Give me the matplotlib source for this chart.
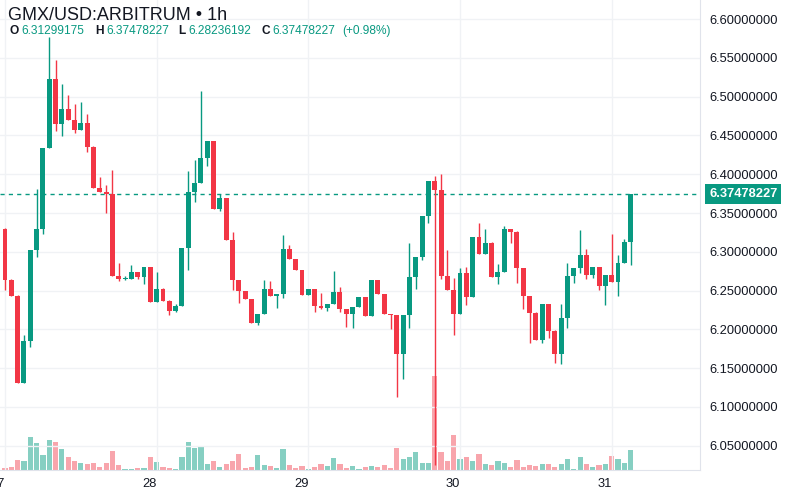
import matplotlib
matplotlib.use("Agg")
import matplotlib.pyplot as plt
import matplotlib.transforms as mtransforms

plt.rcParams['font.family'] = ['Liberation Sans', 'DejaVu Sans']

# hourly candles, 27th 00:00 .. 31st 03:00
opens = [6.3300, 6.2635, 6.2427, 6.1314, 6.1853, 6.3026, 6.3296, 6.4336, 6.5222, 6.4653,
         6.4845, 6.4695, 6.4570, 6.4657, 6.4353, 6.3822, 6.3767, 6.3750, 6.2684, 6.2650,
         6.2655, 6.2740, 6.2675, 6.2804, 6.2354, 6.2525, 6.2370, 6.2237, 6.2297, 6.3052,
         6.3777, 6.3885, 6.4211, 6.4425, 6.3546, 6.3690, 6.3147, 6.2632, 6.2490, 6.2387,
         6.2083, 6.2203, 6.2525, 6.2426, 6.2460, 6.3030, 6.2902, 6.2760, 6.2447, 6.2516,
         6.2305, 6.2271, 6.2327, 6.2477, 6.2262, 6.2198, 6.2284, 6.2413, 6.2177, 6.2636,
         6.2456, 6.2198, 6.2185, 6.1679, 6.2185, 6.2670, 6.2936, 6.3460, 6.3914, 6.3794,
         6.2687, 6.2507, 6.2198, 6.2722, 6.2421, 6.3193, 6.2970, 6.3116, 6.2670, 6.2743,
         6.3288, 6.3258, 6.2786, 6.2430, 6.2216, 6.1865, 6.2327, 6.1985, 6.1685, 6.2143,
         6.2687, 6.2794, 6.2956, 6.2700, 6.2807, 6.2558, 6.2700, 6.2614, 6.2862, 6.31299175]
highs = [6.3310, 6.2650, 6.2440, 6.1926, 6.3026, 6.3810, 6.4336, 6.5768, 6.5466, 6.5158,
         6.5020, 6.4910, 6.4930, 6.4770, 6.4360, 6.3968, 6.3860, 6.4053, 6.2855, 6.2690,
         6.2830, 6.2745, 6.2804, 6.2810, 6.2740, 6.2530, 6.2375, 6.2323, 6.3052, 6.4035,
         6.4185, 6.5077, 6.4425, 6.4430, 6.3747, 6.3695, 6.3250, 6.2640, 6.2495, 6.2390,
         6.2203, 6.2640, 6.2620, 6.2460, 6.3220, 6.3082, 6.2905, 6.2765, 6.2516, 6.2520,
         6.2464, 6.2327, 6.2752, 6.2550, 6.2265, 6.2284, 6.2413, 6.2415, 6.2636, 6.2640,
         6.2460, 6.2200, 6.2190, 6.2185, 6.3108, 6.2936, 6.3460, 6.3914, 6.3974, 6.4009,
         6.3022, 6.2657, 6.2786, 6.2799, 6.3193, 6.3374, 6.3288, 6.3120, 6.2842, 6.3331,
         6.3290, 6.3262, 6.2790, 6.2432, 6.2218, 6.2327, 6.2330, 6.1990, 6.2327, 6.2858,
         6.2794, 6.3286, 6.3042, 6.2807, 6.2810, 6.2700, 6.3226, 6.2956, 6.3170, 6.37478227]
lows = [6.2505, 6.2425, 6.1314, 6.1314, 6.1776, 6.2930, 6.3230, 6.4336, 6.4558, 6.4494,
        6.4695, 6.4537, 6.4570, 6.4289, 6.3822, 6.3767, 6.3497, 6.2684, 6.2630, 6.2635,
        6.2655, 6.2650, 6.2590, 6.2354, 6.2354, 6.2367, 6.2180, 6.2230, 6.2297, 6.2760,
        6.3640, 6.3885, 6.4100, 6.3546, 6.3530, 6.3147, 6.2512, 6.2340, 6.2387, 6.2083,
        6.2053, 6.2203, 6.2426, 6.2280, 6.2410, 6.2902, 6.2760, 6.2447, 6.2440, 6.2224,
        6.2265, 6.2240, 6.2327, 6.2228, 6.2035, 6.2014, 6.2284, 6.2177, 6.2177, 6.2456,
        6.2198, 6.2000, 6.1134, 6.1357, 6.2014, 6.2520, 6.2893, 6.3365, 6.0250, 6.2644,
        6.2507, 6.1928, 6.2198, 6.2314, 6.2421, 6.2970, 6.2970, 6.2670, 6.2584, 6.2743,
        6.3116, 6.2593, 6.2258, 6.1822, 6.1865, 6.1822, 6.1886, 6.1565, 6.1557, 6.2015,
        6.2593, 6.2721, 6.2644, 6.2657, 6.2507, 6.2314, 6.2614, 6.2430, 6.2862, 6.28236192]
closes = [6.2635, 6.2427, 6.1314, 6.1853, 6.3026, 6.3296, 6.4336, 6.5222, 6.4653, 6.4845,
          6.4695, 6.4570, 6.4657, 6.4353, 6.3822, 6.3767, 6.3750, 6.2684, 6.2650, 6.2655,
          6.2740, 6.2675, 6.2804, 6.2354, 6.2525, 6.2370, 6.2237, 6.2297, 6.3052, 6.3777,
          6.3885, 6.4211, 6.4425, 6.3546, 6.3690, 6.3147, 6.2632, 6.2490, 6.2387, 6.2083,
          6.2203, 6.2525, 6.2426, 6.2460, 6.3030, 6.2902, 6.2760, 6.2447, 6.2516, 6.2305,
          6.2271, 6.2327, 6.2477, 6.2262, 6.2198, 6.2284, 6.2413, 6.2177, 6.2636, 6.2456,
          6.2198, 6.2185, 6.1679, 6.2185, 6.2670, 6.2936, 6.3460, 6.3914, 6.3794, 6.2687,
          6.2507, 6.2198, 6.2722, 6.2421, 6.3193, 6.2970, 6.3116, 6.2670, 6.2743, 6.3288,
          6.3258, 6.2786, 6.2430, 6.2216, 6.1865, 6.2327, 6.1985, 6.1685, 6.2143, 6.2687,
          6.2794, 6.2956, 6.2700, 6.2807, 6.2558, 6.2700, 6.2614, 6.2862, 6.3128, 6.37478227]
volumes = [5, 10, 30, 28, 98, 82, 45, 90, 84, 63,
           38, 27, 22, 17, 20, 10, 20, 57, 15, 4,
           4, 5, 5, 40, 25, 9, 5, 2, 38, 85,
           66, 70, 17, 26, 9, 19, 28, 48, 5, 8,
           45, 15, 12, 5, 62, 15, 5, 12, 2, 10,
           18, 12, 35, 18, 5, 12, 2, 8, 12, 8,
           15, 6, 65, 32, 40, 53, 20, 20, 282, 55,
           28, 106, 34, 39, 28, 47, 17, 15, 26, 22,
           9, 30, 10, 14, 11, 17, 17, 8, 17, 34,
           4, 38, 18, 9, 14, 17, 42, 34, 20, 60]

day_labels = ['27', '28', '29', '30', '31']
day_starts = [0, 24, 48, 72, 96]
price_ticks = [6.05, 6.10, 6.15, 6.20, 6.25, 6.30, 6.35, 6.40, 6.45, 6.50, 6.55, 6.60]

UP = '#089981'
DOWN = '#f23645'
UP_VOL = '#86cfc2'
DOWN_VOL = '#f8a5ac'
TXT = '#131722'
GRID = '#f0f2f5'

fig = plt.figure(figsize=(8, 5), dpi=100)
ax = fig.add_axes([0, 0.06, 0.875, 0.94])
axv = ax.twinx()
ax.set_zorder(axv.get_zorder() + 1)
ax.patch.set_visible(False)

x = list(range(len(closes)))
up = [c >= o for o, c in zip(opens, closes)]

# volume underneath
axv.bar(x, volumes, width=0.82, color=[UP_VOL if u else DOWN_VOL for u in up])
axv.set_ylim(0, 1410)
axv.axis('off')

# candles
cols = [UP if u else DOWN for u in up]
ax.vlines(x, lows, highs, colors=cols, linewidth=1.0, zorder=3)
bottoms = [min(o, c) for o, c in zip(opens, closes)]
heights = [max(abs(c - o), 0.0008) for o, c in zip(opens, closes)]
ax.bar(x, heights, bottom=bottoms, width=0.78, color=cols, zorder=4)

ax.set_xlim(-0.79, 109.97)
ax.set_ylim(6.0188, 6.6245)

# grid
for d in day_starts:
    ax.axvline(d, color=GRID, linewidth=1, zorder=0)
for p in price_ticks:
    ax.axhline(p, color=GRID, linewidth=1, zorder=0)

# last price line + label
last = closes[-1]
ax.axhline(last, color=UP, linewidth=1, linestyle=(0, (3, 3)), zorder=2)
trans = mtransforms.blended_transform_factory(ax.transAxes, ax.transData)
ax.text(1.013, last, f'{last:.8f}', transform=trans, ha='left', va='center',
        color='white', fontsize=9.3, fontweight='bold', clip_on=False,
        bbox=dict(boxstyle='square,pad=0.3', fc=UP, ec='none'))

# axes styling
ax.yaxis.tick_right()
ax.set_yticks(price_ticks)
ax.set_yticklabels([f'{p:.8f}' for p in price_ticks])
ax.tick_params(axis='y', length=0, pad=6.5, labelsize=9.3, labelcolor=TXT)
ax.set_xticks(day_starts)
ax.set_xticklabels(day_labels)
for lab in ax.get_xticklabels():
    lab.set_horizontalalignment('right')
ax.tick_params(axis='x', length=0, pad=6, labelsize=9.3, labelcolor=TXT)
for s in ['left', 'top']:
    ax.spines[s].set_visible(False)
for s in ['right', 'bottom']:
    ax.spines[s].set_color('#e0e3eb')

# header
fig.text(8 / 800, 1 - 15 / 500, 'GMX/USD:ARBITRUM \u2022 1h', fontsize=13,
         color=TXT, va='center', ha='left')
hdr_y = 1 - 31 / 500
items = [('O', 10, '6.31299175', 21.5), ('H', 95.5, '6.37478227', 106),
         ('L', 178.5, '6.28236192', 188), ('C', 262, '6.37478227', 272)]
for k, kx, v, vx in items:
    fig.text(kx / 800, hdr_y, k, fontsize=8.6, fontweight='bold', color=TXT, va='center')
    fig.text(vx / 800, hdr_y, v, fontsize=8.6, color=UP, va='center')
fig.text(342 / 800, hdr_y, '(+0.98%)', fontsize=8.6, color=UP, va='center')

fig.savefig('out.png', dpi=100, facecolor='white')
